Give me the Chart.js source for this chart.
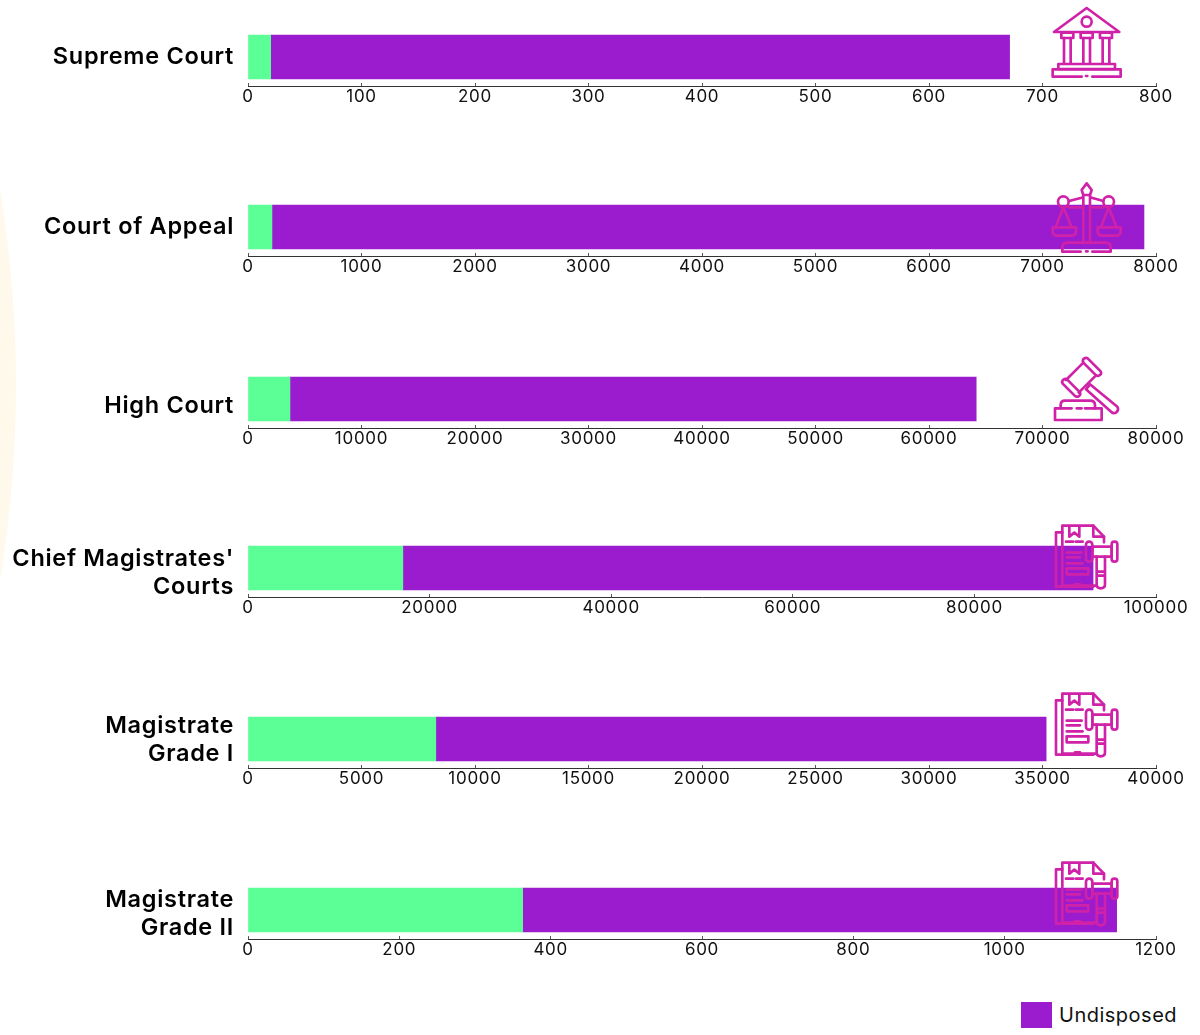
<!DOCTYPE html>
<html>
<head>
<meta charset="utf-8">
<title>Courts</title>
<script src="https://cdn.jsdelivr.net/npm/chart.js@4/dist/chart.umd.min.js"></script>
<style>
  html, body { margin: 0; padding: 0; background: #fff; }
  #page { position: relative; width: 1200px; height: 1035px; overflow: hidden; }
  #page canvas { position: absolute; left: 0; }
  #fondo { position: absolute; left: 0; top: 0; }
  #iconos { position: absolute; left: 0; top: 0; z-index: 5; }
  #iconos * { fill: none; stroke: #cf22a8; stroke-width: 8; stroke-linejoin: round; stroke-linecap: round; }
  #leyenda { position: absolute; left: 1021px; top: 1002px; font: 400 20px Inter, sans-serif; color: #111; letter-spacing: .5px; }
  #leyenda i { position: absolute; left: 0; top: 0; width: 31px; height: 26px; background: #9a1cce; }
  #leyenda span { position: absolute; left: 38px; top: 0; line-height: 26px; white-space: nowrap; }
</style>
</head>
<body>
<div id="page">
  <svg id="fondo" width="40" height="1035"><circle cx="-1180" cy="385" r="1196" fill="#fff9ec"/></svg>

  <svg id="iconos" width="1200" height="1035">
    <defs>
      <!-- expediente con mazo, coordenadas del recorte ampliado x3 -->
      <g id="icono-doc">
        <path d="M97 52H78V215H190"/>
        <path d="M222 82V65L190 32H97V212H200"/>
        <path d="M190 32V65H222"/>
        <path d="M118 34V65L133 53L148 65V34"/>
        <path d="M108 80H130M138 80H158M110 113H155M110 127H150M110 145H158M135 208H150"/>
        <rect x="110" y="160" width="65" height="18"/>
        <rect x="168" y="80" width="19" height="60" rx="9"/>
        <rect x="245" y="80" width="17" height="60" rx="8"/>
        <path d="M187 95H245V125H187Z"/>
        <path d="M200 125V208Q200 220 212 220Q225 220 225 208V125M200 170H225M200 182H225"/>
      </g>
    </defs>
    <!-- edificio -->
    <g transform="translate(1030,0) scale(.3333)">
      <path d="M170 24L268 96H72Z"/>
      <circle cx="170" cy="65" r="15"/>
      <path d="M94 98H130V114H94ZM152 98H188V114H152ZM210 98H246V114H210Z"/>
      <path d="M102 114V190M122 114V190M160 114V190M180 114V190M218 114V190M238 114V190"/>
      <path d="M85 192H255V207H85Z"/>
      <path d="M155 230H68V208H272V230H187M168 228H172"/>
    </g>
    <!-- balanza -->
    <g transform="translate(1030,175) scale(.3333)">
      <path d="M170 25L185 45L180 60H160L155 45Z"/>
      <path d="M160 60V200M180 60V200"/>
      <circle cx="100" cy="80" r="16"/>
      <circle cx="236" cy="80" r="16"/>
      <path d="M117 78L155 68M185 68L220 78M115 97H160M180 97H222"/>
      <path d="M100 97L77 157M100 97L125 157M236 97L213 157M236 97L260 157"/>
      <path d="M68 157H138V168Q138 182 124 182H82Q68 182 68 168Z"/>
      <path d="M203 157H272V168Q272 182 258 182H217Q203 182 203 168Z"/>
      <path d="M152 230H97V218Q97 203 112 203H227Q242 203 242 218V230H187M168 229H173"/>
    </g>
    <!-- mazo -->
    <g transform="translate(1030,350) scale(.3333)">
      <path d="M173 25L212 64Q216 72 208 76Q202 80 196 74L160 38Q156 30 162 26Q168 22 173 25Z"/>
      <path d="M111 88L150 127Q153 135 146 139Q140 142 134 137L98 101Q94 94 100 89Q106 85 111 88Z"/>
      <path d="M160 38L108 90M198 76L146 128"/>
      <path d="M168 118L180 103L262 170Q268 180 258 188Q250 192 244 186Z"/>
      <path d="M92 175V165Q92 152 105 152H180Q195 152 195 165V175"/>
      <path d="M125 175H75V210H215V175H165M140 175H155"/>
    </g>
    <use href="#icono-doc" transform="translate(1030,515) scale(.3333)"/>
    <use href="#icono-doc" transform="translate(1030,683) scale(.3333)"/>
    <use href="#icono-doc" transform="translate(1030,852) scale(.3333)"/>
  </svg>

  <div id="leyenda"><i></i><span>Undisposed</span></div>
</div>

<script>
// Datos
const cortes = [
    'Supreme Court',
    'Court of Appeal',
    'High Court',
    ["Chief Magistrates'", 'Courts'],
    ['Magistrate', 'Grade I'],
    ['Magistrate', 'Grade II']
];
const resueltos = [20, 211, 3696, 17052, 8273, 363];
const pendientes = [651, 7683, 60462, 76017, 26887, 785];
const maximos = [800, 8000, 80000, 100000, 40000, 1200];
const pasos = [100, 1000, 10000, 20000, 5000, 200];

// Posicion de cada panel en la pagina
const ejeY = [86, 256, 428, 597, 768, 939];
const ajusteEtiqueta = [0, 0, 7, 5, 1, 4];

const ALTO_AREA = 58;
const ALTO_EJE = 30;
const pagina = document.getElementById('page');

// La fuente del original es mas ancha, se compensa con espaciado
const espaciado = {
    id: 'espaciado',
    beforeLayout(chart) { chart.ctx.letterSpacing = '0.7px'; },
    beforeDraw(chart) { chart.ctx.letterSpacing = '0.7px'; }
};

// Un grafico por cada corte, todos con la misma geometria
cortes.forEach((corte, i) => {
    const canvas = document.createElement('canvas');
    canvas.width = 1200;
    canvas.height = ALTO_AREA + ALTO_EJE;
    canvas.style.top = (ejeY[i] - ALTO_AREA) + 'px';
    pagina.appendChild(canvas);

    new Chart(canvas.getContext('2d'), {
        type: 'bar',
        plugins: [espaciado],
        data: {
            labels: [corte],
            datasets: [
                { label: 'Disposed', data: [resueltos[i]], backgroundColor: '#5cff96', barThickness: 44 },
                { label: 'Undisposed', data: [pendientes[i]], backgroundColor: '#9a1cce', barThickness: 44 }
            ]
        },
        options: {
            indexAxis: 'y',
            responsive: false,
            animation: false,
            layout: { padding: { top: 0, right: 44, bottom: 0, left: 0 } },
            plugins: { legend: { display: false }, tooltip: { enabled: false } },
            scales: {
                x: {
                    stacked: true,
                    min: 0,
                    max: maximos[i],
                    afterFit: s => { s.height = ALTO_EJE; },
                    border: { color: '#333', width: 1 },
                    grid: { drawOnChartArea: false, color: '#555', tickLength: -3 },
                    ticks: {
                        stepSize: pasos[i],
                        autoSkip: false,
                        maxRotation: 0,
                        padding: 4,
                        color: '#111',
                        font: { family: 'Inter', size: 17, weight: '400' },
                        callback: v => String(v)
                    }
                },
                y: {
                    stacked: true,
                    afterFit: s => { s.width = 248; s.paddingTop = 0; s.paddingBottom = 0; },
                    border: { display: false },
                    grid: { display: false, drawTicks: false },
                    ticks: {
                        padding: 14,
                        labelOffset: ajusteEtiqueta[i],
                        color: '#000',
                        font: { family: 'Inter', size: 23.5, weight: '600', lineHeight: 1.2 }
                    }
                }
            }
        }
    });
});
</script>
</body>
</html>
